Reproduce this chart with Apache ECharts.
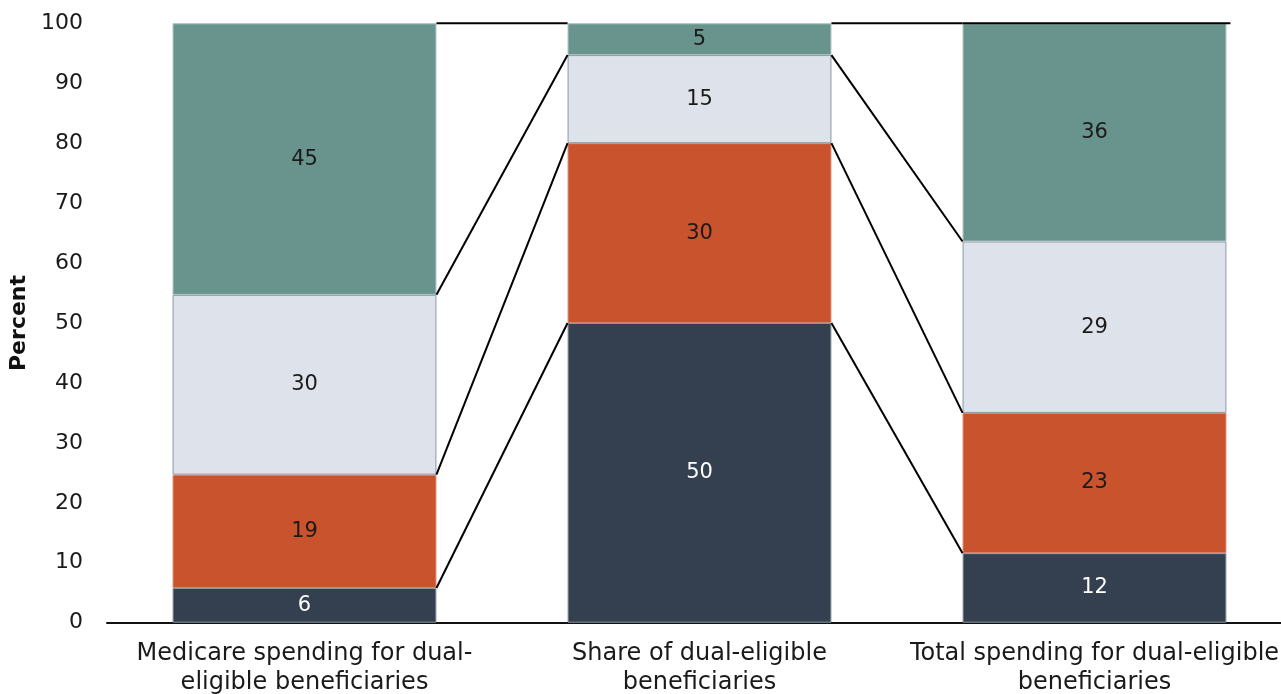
<!DOCTYPE html>
<html>
<head>
<meta charset="utf-8">
<script src="https://cdn.jsdelivr.net/npm/echarts@6/dist/echarts.min.js"></script>
<style>
html,body{margin:0;padding:0;background:#fff;}
#chart{width:1281px;height:694px;}
</style>
</head>
<body>
<div id="chart"></div>
<script>
// ---- data ----
const categories = [
  'Medicare spending for dual-\neligible beneficiaries',
  'Share of dual-eligible\nbeneficiaries',
  'Total spending for dual-eligible\nbeneficiaries'
];
const seriesNames = ['Seg 1', 'Seg 2', 'Seg 3', 'Seg 4'];
const seg1 = [5.8, 50, 11.6];
const seg2 = [18.9, 30, 23.4];
const seg3 = [30.0, 14.7, 28.6];
const seg4 = [45.3, 5.3, 36.4];
const yTicks = [0, 100, 10]; // min, max, interval

// ---- styles ----
const colors = ['#343F50', '#C9532D', '#DEE2EB', '#68948D'];
const borders = ['#8c95a2', '#d9846a', '#8f97a6', '#a6bfba'];
const labelColors = ['#ffffff', '#1a1a1a', '#1a1a1a', '#1a1a1a'];
const BAR_FRAC = 0.668;
const FONT = 'DejaVu Sans';

const segs = [seg1, seg2, seg3, seg4];

// cumulative tops for connectors
const cum = categories.map((_, i) => {
  let s = 0; return segs.map(a => (s += a[i]));
});
const connectors = [];
for (let c = 0; c < categories.length - 1; c++) {
  for (let k = 0; k < segs.length; k++) {
    connectors.push([c, cum[c][k], c + 1, cum[c + 1][k]]);
  }
}
// top edge line over the last bar
const last = categories.length - 1;
connectors.push([last, cum[last][segs.length - 1], last, cum[last][segs.length - 1]]);

const barSeries = segs.map((arr, k) => ({
  name: seriesNames[k],
  type: 'bar',
  stack: 'total',
  barWidth: (BAR_FRAC * 100) + '%',
  data: arr,
  itemStyle: { color: colors[k], borderColor: borders[k], borderWidth: 1 },
  label: {
    show: true,
    position: 'inside',
    color: labelColors[k],
    fontFamily: FONT,
    fontSize: 21,
    formatter: p => Math.round(p.value)
  },
  emphasis: { disabled: true }
}));

const chart = echarts.init(document.getElementById('chart'), null, { renderer: 'canvas' });
chart.setOption({
  animation: false,
  backgroundColor: '#ffffff',
  grid: { left: 107, right: -11, top: 23.3, bottom: 71.3, containLabel: false, outerBoundsMode: 'none' },
  xAxis: {
    type: 'category',
    data: categories,
    axisLine: { lineStyle: { color: '#111', width: 2 } },
    axisTick: { show: false },
    axisLabel: {
      interval: 0,
      color: '#1a1a1a',
      fontFamily: FONT,
      fontSize: 24,
      lineHeight: 29,
      margin: 17,
      hideOverlap: false
    }
  },
  yAxis: {
    type: 'value',
    min: yTicks[0], max: yTicks[1], interval: yTicks[2],
    name: 'Percent',
    nameLocation: 'middle',
    nameGap: 73,
    nameTextStyle: { fontFamily: FONT, fontWeight: 'bold', fontSize: 22, color: '#111' },
    axisLine: { show: false },
    axisTick: { show: false },
    splitLine: { show: false },
    axisLabel: { color: '#1a1a1a', fontFamily: FONT, fontSize: 22, margin: 24 }
  },
  series: barSeries.concat([{
    type: 'custom',
    data: connectors,
    silent: true,
    z: 5,
    encode: { x: 0, y: 1 },
    renderItem: function (params, api) {
      const a = api.coord([api.value(0), api.value(1)]);
      const b = api.coord([api.value(2), api.value(3)]);
      const half = api.size([1, 0])[0] * BAR_FRAC / 2;
      let x1, x2;
      if (api.value(0) === api.value(2)) {
        x1 = a[0] - half; x2 = a[0] + half + 4;
      } else {
        x1 = a[0] + half; x2 = b[0] - half;
      }
      return {
        type: 'line',
        shape: { x1: x1, y1: a[1], x2: x2, y2: b[1] },
        style: { stroke: '#000', lineWidth: 2 }
      };
    }
  }])
});
</script>
</body>
</html>
